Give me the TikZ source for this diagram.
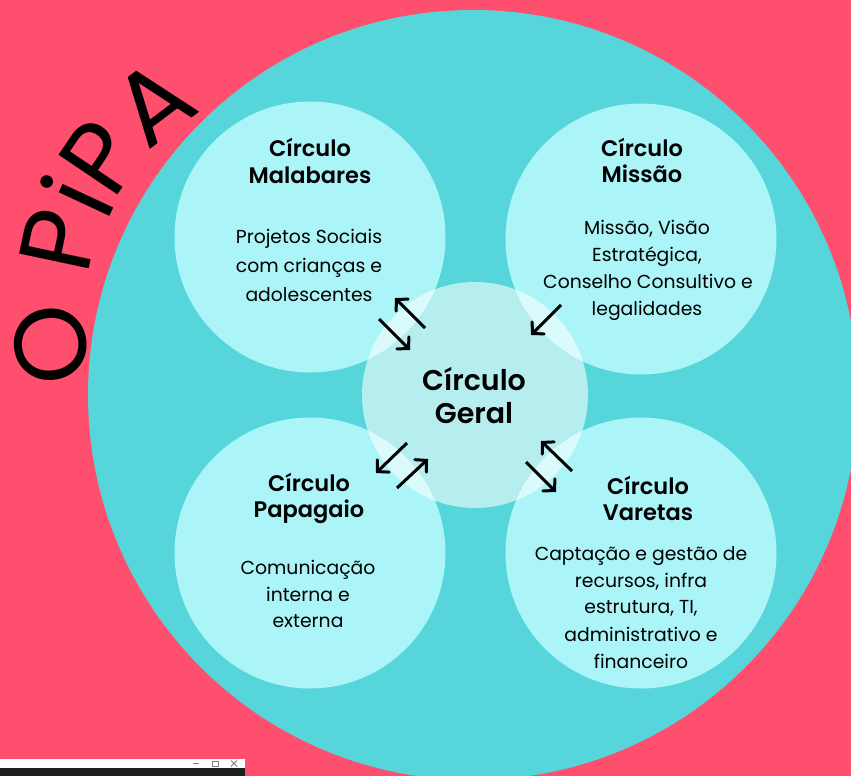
\documentclass[tikz,border=0pt]{standalone}
\usepackage{fontspec}
\setmainfont{Poppins}[BoldFont={Poppins SemiBold}]
\usetikzlibrary{arrows.meta}
\definecolor{pinkbg}{RGB}{255,79,110}
\definecolor{cyanbig}{RGB}{86,214,218}
\definecolor{lightc}{RGB}{171,244,247}
\definecolor{darkbar}{RGB}{30,30,30}
\tikzset{
  smallc/.style={circle, fill=lightc, minimum size=271pt, inner sep=0pt},
  geralc/.style={circle, fill=white, fill opacity=0.57, minimum size=226pt, inner sep=0pt},
  ttl/.style={anchor=base, inner sep=0pt, font=\bfseries\fontsize{22.5}{26}\selectfont},
  body/.style={anchor=base, inner sep=0pt, font=\fontsize{18.8}{27}\selectfont},
  geraltxt/.style={anchor=base, inner sep=0pt, font=\bfseries\fontsize{28.5}{33}\selectfont},
  pipa/.style={anchor=base, inner sep=0pt, font=\fontsize{102}{110}\selectfont},
  arr/.style={line width=3pt, -{Straight Barb[length=8pt,width=17pt,line cap=round]}},
}
\begin{document}
\begin{tikzpicture}[x=1pt,y=-1pt]
\useasboundingbox (0,0) rectangle (851,776);
\clip (0,0) rectangle (851,776);
\fill[pinkbg] (0,0) rectangle (851,776);
\node[circle, fill=cyanbig, minimum size=770pt, inner sep=0pt] (big) at (473,395) {};

% title letters on an arc
\node[pipa, rotate=98] (lO) at (86,340) {O};
\node[pipa, rotate=78] (lP1) at (94,248) {P};
\node[pipa, rotate=65] (li) at (112,212) {i};
\node[pipa, rotate=56] (lP2) at (130,177) {P};
\node[pipa, rotate=37] (lA) at (175,131) {A};

% circles
\node[smallc] (mal) at (310,237) {};
\node[smallc] (mis) at (641,239) {};
\node[smallc] (pap) at (310,553) {};
\node[smallc] (var) at (641,553) {};
\node[geralc] (ger) at (475,395) {};

% texts
\node[ttl] (malt1) at (310,156) {Círculo};
\node[ttl] (malt2) at (310,183) {Malabares};
\node[body] (malb1) at (309,243) {Projetos Sociais};
\node[body] (malb2) at (309,272) {com crianças e};
\node[body] (malb3) at (309,301) {adolescentes};

\node[ttl] (mist1) at (642,156) {Círculo};
\node[ttl] (mist2) at (642,182) {Missão};
\node[body] (misb1) at (647,234) {Missão, Visão};
\node[body] (misb2) at (647,261) {Estratégica,};
\node[body] (misb3) at (648,288) {Conselho Consultivo e};
\node[body] (misb4) at (647,315) {legalidades};

\node[ttl] (papt1) at (309,491) {Círculo};
\node[ttl] (papt2) at (309,517) {Papagaio};
\node[body] (papb1) at (308,574) {Comunicação};
\node[body] (papb2) at (308,601) {interna e};
\node[body] (papb3) at (308,627) {externa};

\node[ttl] (vart1) at (648,494) {Círculo};
\node[ttl] (vart2) at (648,520) {Varetas};
\node[body] (varb1) at (641,560) {Captação e gestão de};
\node[body] (varb2) at (641,587) {recursos, infra};
\node[body] (varb3) at (641,613) {estrutura, TI,};
\node[body] (varb4) at (641,641) {administrativo e};
\node[body] (varb5) at (641,668) {financeiro};

\node[geraltxt] (gert1) at (474,390) {Círculo};
\node[geraltxt] (gert2) at (474,423) {Geral};

% arrows
\coordinate (a1s) at (425,328); \coordinate (a1e) at (395,298);
\coordinate (a2s) at (379,319); \coordinate (a2e) at (410,350);
\coordinate (a3s) at (561,305); \coordinate (a3e) at (531,335);
\coordinate (a4s) at (407,443); \coordinate (a4e) at (376,473);
\coordinate (a5s) at (397,488); \coordinate (a5e) at (428,459);
\coordinate (a6s) at (572,471); \coordinate (a6e) at (541,441);
\coordinate (a7s) at (526,462); \coordinate (a7e) at (556,492);
\draw[arr] (a1s) -- (a1e);
\draw[arr] (a2s) -- (a2e);
\draw[arr] (a3s) -- (a3e);
\draw[arr] (a4s) -- (a4e);
\draw[arr] (a5s) -- (a5e);
\draw[arr] (a6s) -- (a6e);
\draw[arr] (a7s) -- (a7e);

% window strip bottom-left
\fill[white] (0,759) rectangle (245,768);
\fill[darkbar] (0,768) rectangle (245,776);
\draw[gray, line width=0.8pt] (193,763.5) -- (199,763.5);
\draw[gray, line width=0.8pt] (212,761) rectangle (218,766);
\draw[gray, line width=0.8pt] (231,760.5) -- (237,766.5) (231,766.5) -- (237,760.5);
\end{tikzpicture}
\end{document}
